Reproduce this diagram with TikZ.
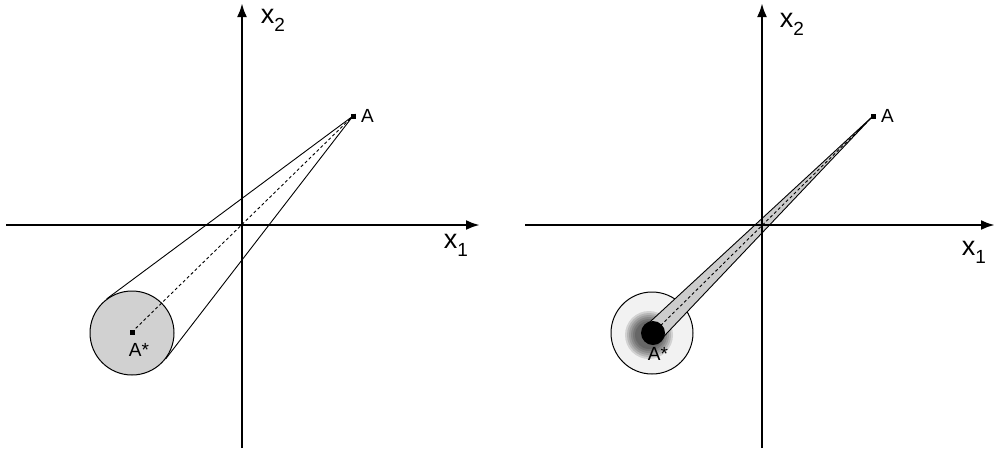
\documentclass[tikz,border=0pt]{standalone}
\usepackage{fontspec}
\setmainfont{Liberation Sans}
\usetikzlibrary{calc,arrows.meta}
\newcommand\mysubidx[1]{\raisebox{-0.3em}{\fontsize{19}{19}\selectfont #1}}
\begin{document}
\begin{tikzpicture}[x=1pt,y=-1pt,
  axis/.style={line width=2.6pt,-{Latex[length=14pt,width=10pt]}},
  lab/.style={font=\fontsize{27}{27}\selectfont, inner sep=0},
  ptlab/.style={font=\fontsize{19}{19}\selectfont, inner sep=0},
  dotmark/.style={rectangle, fill=black, minimum size=5pt, inner sep=0},
  cone/.style={line width=0.9pt},
  ray/.style={line width=0.9pt, dash pattern=on 3pt off 2.5pt},
  bigcirc/.style={circle, draw, line width=1pt, inner sep=0}
]
\useasboundingbox (0,0) rectangle (995,448);

% ---------- left panel ----------
\coordinate (L1s) at (6,225);
\coordinate (L1e) at (480,225);
\coordinate (L2s) at (242,448);
\coordinate (L2e) at (242,3);
\coordinate (AL) at (353,116);

\node[bigcirc, fill=black!18, minimum size=84pt] (cL) at (132,333) {};
\draw[cone] (tangent cs:node=cL,point={(AL)},solution=1) -- (AL)
            -- (tangent cs:node=cL,point={(AL)},solution=2);
\node[dotmark] (AsmL) at (132,332) {};
\node[dotmark] (AmL) at (AL) {};
\draw[ray] (AmL) -- (AsmL);

\draw[axis] (L1s) -- (L1e);
\draw[axis] (L2s) -- (L2e);
\node[lab] (x1L) at (456,245) {x\mysubidx{1}};
\node[lab] (x2L) at (273,20) {x\mysubidx{2}};
\node[ptlab, anchor=west] (AlabL) at (361,116) {A};
\node[ptlab] (AsL) at (139,350) {A*};

% ---------- right panel ----------
\coordinate (R1s) at (525,225);
\coordinate (R1e) at (995,225);
\coordinate (R2s) at (762,448);
\coordinate (R2e) at (762,3);
\coordinate (AR) at (873,116);

\node[bigcirc, fill=black!5, minimum size=82pt] (cR) at (652,333) {};
\foreach \r in {24,22,...,13}
  \fill[black, opacity=0.13] (649,335) circle (\r);
\node[circle, minimum size=20pt, inner sep=0] (bR) at (653,333) {};
\fill[black!20] (AR) -- (tangent cs:node=bR,point={(AR)},solution=1)
      -- (bR.center) -- (tangent cs:node=bR,point={(AR)},solution=2) -- cycle;
\draw[cone] (tangent cs:node=bR,point={(AR)},solution=1) -- (AR)
            -- (tangent cs:node=bR,point={(AR)},solution=2);
\node[dotmark] (AmR) at (AR) {};
\draw[ray] (AmR) -- (bR);
\fill[black] (bR.center) circle (12);

\draw[axis] (R1s) -- (R1e);
\draw[axis] (R2s) -- (R2e);
\node[lab] (x1R) at (974,252) {x\mysubidx{1}};
\node[lab] (x2R) at (792,24) {x\mysubidx{2}};
\node[ptlab, anchor=west] (AlabR) at (881,116) {A};
\node[ptlab] (AsR) at (658,354) {A*};
\end{tikzpicture}
\end{document}
